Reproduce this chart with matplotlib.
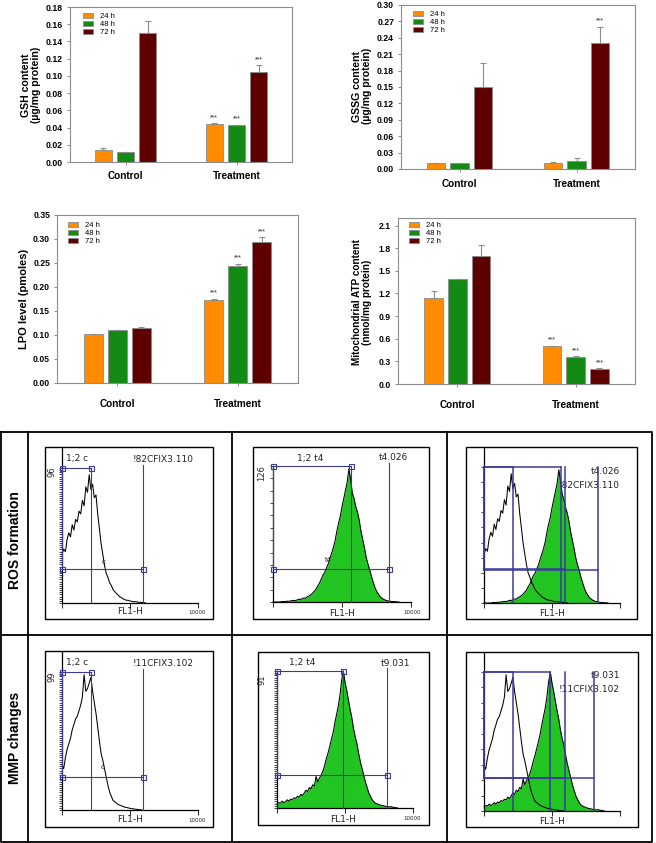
#!/usr/bin/env python3
"""Oxidative stress panels (a-d) plus ROS / MMP flow cytometry histograms."""

import numpy as np
import matplotlib
matplotlib.use("Agg")
import matplotlib.pyplot as plt
from matplotlib.patches import Rectangle

W, H = 656, 843

HOURS = ["24 h", "48 h", "72 h"]
GROUPS = ["Control", "Treatment"]
BAR_COLORS = ["#ff8c00", "#138a13", "#5e0000"]

# per time point: [control, treatment]
GSH_MEAN = [[0.0138, 0.0445], [0.0113, 0.0425], [0.150, 0.105]]
GSH_ERR = [[0.0022, 0.0008], [0.0005, 0.0008], [0.014, 0.0075]]
GSH_STARS = [[0, 1], [0, 1], [0, 1]]

GSSG_MEAN = [[0.0104, 0.0115], [0.0104, 0.0150], [0.1506, 0.231]]
GSSG_ERR = [[0.0012, 0.0008], [0.0012, 0.0045], [0.044, 0.029]]
GSSG_STARS = [[0, 0], [0, 0], [0, 1]]

LPO_MEAN = [[0.1015, 0.1735], [0.1095, 0.2444], [0.1152, 0.2937]]
LPO_ERR = [[0.0015, 0.0025], [0.001, 0.0045], [0.002, 0.0098]]
LPO_STARS = [[0, 1], [0, 1], [0, 1]]

ATP_MEAN = [[1.146, 0.505], [1.397, 0.356], [1.694, 0.2016]]
ATP_ERR = [[0.083, 0.0], [0.0, 0.01], [0.154, 0.01]]
ATP_STARS = [[0, 1], [0, 1], [0, 1]]

# flow cytometry histograms, relative counts per 0.05-decade channel from 1
CHANNEL_STEP = 0.05
CTRL_ROS = [0.36, 0.40, 0.38, 0.47, 0.52, 0.49, 0.58, 0.54, 0.62, 0.60,
            0.68, 0.66, 0.76, 0.72, 0.86, 0.82, 0.95, 0.84, 0.88, 0.78,
            0.80, 0.66, 0.55, 0.44, 0.36, 0.28, 0.22, 0.19, 0.15, 0.13,
            0.10, 0.085, 0.07, 0.06, 0.045, 0.04, 0.03, 0.025, 0.02, 0.02,
            0.015, 0.012, 0.01, 0.01, 0.008, 0.006, 0.005, 0.004, 0.003, 0.0]
TRT_ROS = [0.0, 0.0, 0.0, 0.0, 0.0, 0.003, 0.004, 0.003, 0.006, 0.005,
           0.008, 0.010, 0.012, 0.010, 0.015, 0.020, 0.018, 0.025, 0.030, 0.028,
           0.040, 0.045, 0.055, 0.065, 0.080, 0.095, 0.12, 0.14, 0.17, 0.20,
           0.22, 0.25, 0.28, 0.32, 0.36, 0.40, 0.45, 0.52, 0.58, 0.63,
           0.70, 0.76, 0.82, 0.88, 0.98, 0.90, 0.80, 0.76, 0.70, 0.66,
           0.60, 0.52, 0.46, 0.40, 0.33, 0.28, 0.24, 0.19, 0.15, 0.11,
           0.08, 0.06, 0.04, 0.03, 0.02, 0.015, 0.01, 0.008, 0.005, 0.004,
           0.003, 0.002, 0.001, 0.0]
CTRL_MMP = [0.33, 0.30, 0.38, 0.44, 0.48, 0.52, 0.58, 0.62, 0.66, 0.68,
            0.72, 0.76, 0.82, 0.98, 0.86, 0.88, 0.92, 0.96, 0.86, 0.78,
            0.70, 0.60, 0.50, 0.41, 0.36, 0.30, 0.24, 0.18, 0.13, 0.10,
            0.07, 0.06, 0.05, 0.04, 0.035, 0.03, 0.025, 0.02, 0.018, 0.015,
            0.012, 0.01, 0.008, 0.006, 0.005, 0.003, 0.002, 0.0]
TRT_MMP = [0.03, 0.04, 0.035, 0.05, 0.04, 0.045, 0.06, 0.05, 0.065, 0.06,
           0.075, 0.07, 0.085, 0.08, 0.10, 0.09, 0.11, 0.13, 0.12, 0.15,
           0.14, 0.17, 0.16, 0.23, 0.19, 0.22, 0.24, 0.27, 0.31, 0.36,
           0.40, 0.45, 0.50, 0.55, 0.62, 0.68, 0.74, 0.82, 0.93, 1.00,
           0.92, 0.86, 0.79, 0.72, 0.66, 0.58, 0.52, 0.47, 0.40, 0.34,
           0.29, 0.24, 0.19, 0.15, 0.11, 0.085, 0.06, 0.045, 0.035, 0.03,
           0.025, 0.02, 0.018, 0.015, 0.012, 0.01, 0.008, 0.01, 0.006, 0.004,
           0.002, 0.0]

# gate markers: (peak marker channel, right marker channel, lower gate height)
ROS_CTRL_GATE = (7.1, 240.0, 0.25)
ROS_TRT_GATE = (182.0, 2240.0, 0.24)
MMP_CTRL_GATE = (7.1, 240.0, 0.24)
MMP_TRT_GATE = (87.0, 1740.0, 0.24)

GREEN = "#22c422"
GATE = "#3a3a9c"
BAR_FONT = "Liberation Sans"
FLOW_FONT = "DejaVu Sans"

fig = plt.figure(figsize=(W / 100, H / 100), dpi=100)

ov = fig.add_axes([0, 0, 1, 1], zorder=0)
ov.set_xlim(0, W)
ov.set_ylim(H, 0)
ov.axis("off")


def px_axes(left, top, right, bottom, **kw):
    return fig.add_axes([left / W, 1 - bottom / H, (right - left) / W, (bottom - top) / H], **kw)


def bar_panel(box, means, errs, stars, ymax, yticks, fmt, ylabel, ylab_xy, ylab_size,
              letter, letter_xy, legend_xy, xpad):
    ax = px_axes(*box, zorder=2)
    x = np.arange(1, len(GROUPS) + 1)
    width, offset = 0.158, 0.2
    for k, hour in enumerate(HOURS):
        xs = x + (k - 1) * offset
        ax.bar(xs, means[k], width, color=BAR_COLORS[k], edgecolor="#8c8c8c",
               linewidth=0.6, label=hour, zorder=2)
        ax.errorbar(xs, means[k], yerr=[np.zeros(len(xs)), errs[k]], fmt="none",
                    ecolor="#8c8c8c", elinewidth=0.8, capsize=2.4, capthick=0.8, zorder=3)
        for i in range(len(xs)):
            if stars[k][i]:
                ax.annotate("***", (xs[i], means[k][i] + errs[k][i]), xytext=(0, 1.5),
                            textcoords="offset points", ha="center", va="bottom",
                            fontsize=5, family=BAR_FONT, color="#222222")
    ax.set_xlim(0.5, 2.5)
    ax.set_ylim(0, ymax)
    ax.set_yticks(yticks)
    ax.set_yticklabels([fmt % v for v in yticks], fontsize=6.2, fontweight="bold", family=BAR_FONT)
    ax.set_xticks(x)
    ax.set_xticklabels(GROUPS, fontsize=7.2, fontweight="bold", family=BAR_FONT)
    ax.tick_params(axis="both", direction="out", length=2.5, width=0.7, color="#8c8c8c")
    ax.tick_params(axis="x", pad=xpad)
    ax.tick_params(axis="y", pad=2.5)
    for sp in ax.spines.values():
        sp.set_color("#8c8c8c")
        sp.set_linewidth(0.8)
    ov.text(*ylab_xy, ylabel, rotation=90, ha="center", va="center", fontsize=ylab_size,
            fontweight="bold", family=BAR_FONT, linespacing=1.05)
    ov.text(*letter_xy, letter, ha="center", va="center", fontsize=9.5,
            fontweight="bold", family=BAR_FONT)
    ax.legend(loc="upper left", bbox_to_anchor=legend_xy, bbox_transform=ov.transData,
              frameon=False, borderpad=0, borderaxespad=0, fontsize=5.5,
              handlelength=1.25, handleheight=0.62, handletextpad=1.0, labelspacing=0.08,
              prop={"family": BAR_FONT, "size": 5.5})
    return ax


bar_panel((70, 7, 292, 162), GSH_MEAN, GSH_ERR, GSH_STARS, 0.18,
          np.round(np.arange(0, 0.181, 0.02), 2), "%.2f",
          "GSH content\n(µg/mg protein)", (31, 85), 7.6, "a", (281, 17), (83, 13), 4)
bar_panel((401, 5, 635, 169), GSSG_MEAN, GSSG_ERR, GSSG_STARS, 0.30,
          np.round(np.arange(0, 0.301, 0.03), 2), "%.2f",
          "GSSG content\n(µg/mg protein)", (362, 86), 7.6, "b", (623, 18), (413, 11), 4.5)
bar_panel((57, 215, 298, 383), LPO_MEAN, LPO_ERR, LPO_STARS, 0.35,
          np.round(np.arange(0, 0.351, 0.05), 2), "%.2f",
          "LPO level (pmoles)", (24, 299), 8.0, "c", (287, 229), (68, 222), 9)
bar_panel((398, 218, 635, 384), ATP_MEAN, ATP_ERR, ATP_STARS, 2.2,
          np.round(np.arange(0, 2.11, 0.3), 1), "%.1f",
          "Mitochondrial ATP content\n(nmol/mg protein)", (362, 302), 7.2, "d", (623, 232), (409, 222), 9)

# ---- flow cytometry grid ----
ov.plot([1, 652, 652, 1, 1], [432, 432, 842, 842, 432], color="black", lw=1.3)
for xv in (28, 232, 447):
    ov.plot([xv, xv], [432, 842], color="black", lw=1.3)
ov.plot([1, 652], [635, 635], color="black", lw=1.3)
ov.text(15, 540, "ROS formation", rotation=90, ha="center", va="center",
        fontsize=10, fontweight="bold", family=BAR_FONT)
ov.text(15, 738, "MMP changes", rotation=90, ha="center", va="center",
        fontsize=10, fontweight="bold", family=BAR_FONT)


def channels(counts):
    return 10 ** (np.arange(len(counts)) * CHANNEL_STEP)


def draw_gate(ax, gate, squares, lw):
    xp, xr, h = gate
    kw = dict(color=GATE, lw=lw, clip_on=False, zorder=4)
    ax.plot([1, xp], [1, 1], **kw)
    ax.plot([xp, xp], [0, 1], **kw)
    ax.plot([1, 1], [h, 1], **kw)
    ax.plot([1, xr], [h, h], **kw)
    ax.plot([xr, xr], [0, 1.02 if squares else 1.0], **kw)
    if squares:
        ax.plot([1, xp, 1, xr], [1, 1, h, h], "s", mfc="none", mec=GATE, ms=3.6,
                mew=0.8, clip_on=False, zorder=5)


def flow_panel(box, left, right, baseline, gate_top, axis_top, nyt, curves, gates,
               squares, texts, hidden_texts=()):
    ov.add_patch(Rectangle((box[0], box[1]), box[2] - box[0], box[3] - box[1],
                           fill=False, ec="black", lw=1.0))
    ax = px_axes(left, axis_top, right, baseline, zorder=2)
    ax.patch.set_visible(False)
    ax.set_xscale("log")
    ax.set_xlim(1, 1e4)
    ax.set_ylim(0, (baseline - axis_top) / (baseline - gate_top))
    for name in ("top", "right"):
        ax.spines[name].set_visible(False)
    for name in ("left", "bottom"):
        ax.spines[name].set_linewidth(0.9)
    ax.set_yticks(np.linspace(0, 1, nyt))
    ax.tick_params(axis="y", direction="out", length=2.2, width=0.5, labelleft=False)
    ax.tick_params(axis="x", which="major", direction="out", length=3.5, width=0.6, labelbottom=False)
    ax.tick_params(axis="x", which="minor", direction="out", length=2.2, width=0.5, labelbottom=False)
    for txt, xy in hidden_texts:
        ax.text(*xy, txt, transform=ov.transData, ha="right", va="center", fontsize=6.5,
                family=FLOW_FONT, color="#222222", zorder=1, clip_on=False)
    for counts, filled in curves:
        xs = channels(counts)
        if filled:
            ax.fill_between(xs, counts, color=GREEN, lw=0, zorder=2)
        ax.plot(xs, counts, color="black", lw=0.75, zorder=3, clip_on=False)
    for g in gates:
        draw_gate(ax, g, squares, 0.8 if squares else 1.1)
    for txt, xy, size, rot in texts:
        ov.text(*xy, txt, ha="center", va="center", fontsize=size, rotation=rot,
                family=FLOW_FONT, color="#222222")
    return ax


flow_panel((45, 447, 213, 619), 62, 198, 603, 468, 448, 64, [(CTRL_ROS, False)],
           [ROS_CTRL_GATE], True,
           [("1;2 c", (77, 459), 6.5, 0), ("!82CFIX3.110", (163, 459), 6.5, 0),
            ("96", (52, 472), 6, 90), ("c", (104, 562), 5, 0),
            ("FL1-H", (130, 612), 6.5, 0), ("10000", (197, 612), 4, 0)])
flow_panel((253, 447, 429, 619), 273, 411, 602, 466, 466, 12, [(TRT_ROS, True)],
           [ROS_TRT_GATE], True,
           [("1;2 t4", (310, 458), 6.5, 0), ("t4.026", (393, 458), 6.5, 0),
            ("126", (262, 473), 6, 90), ("t4", (328, 560), 5, 0),
            ("FL1-H", (342, 613), 6.5, 0), ("10000", (412, 613), 4, 0)])
flow_panel((466, 447, 637, 619), 484, 620, 603, 467, 448, 10,
           [(TRT_ROS, True), (CTRL_ROS, False)], [ROS_CTRL_GATE, ROS_TRT_GATE], False,
           [("FL1-H", (552, 613), 6.5, 0)],
           [("t4.026", (620, 472)), ("!82CFIX3.110", (620, 485))])
flow_panel((45, 651, 213, 827), 62, 198, 810, 672, 652, 64, [(CTRL_MMP, False)],
           [MMP_CTRL_GATE], True,
           [("1;2 c", (77, 663), 6.5, 0), ("!11CFIX3.102", (163, 663), 6.5, 0),
            ("99", (52, 677), 6, 90), ("c", (103, 767), 5, 0),
            ("FL1-H", (130, 820), 6.5, 0), ("10000", (197, 820), 4, 0)])
flow_panel((258, 652, 429, 825), 277, 413, 808, 671, 671, 64, [(TRT_MMP, True)],
           [MMP_TRT_GATE], True,
           [("1;2 t4", (302, 663), 6.5, 0), ("t9.031", (395, 663), 6.5, 0),
            ("91", (262, 680), 6, 90), ("t4", (333, 766), 5, 0),
            ("FL1-H", (343, 819), 6.5, 0), ("10000", (412, 819), 4, 0)])
flow_panel((466, 652, 638, 827), 484, 620, 811, 672, 653, 10,
           [(TRT_MMP, True), (CTRL_MMP, False)], [MMP_CTRL_GATE, MMP_TRT_GATE], False,
           [("FL1-H", (552, 821), 6.5, 0)],
           [("t9.031", (620, 676)), ("!11CFIX3.102", (620, 690))])

fig.savefig("out.png", dpi=100)
